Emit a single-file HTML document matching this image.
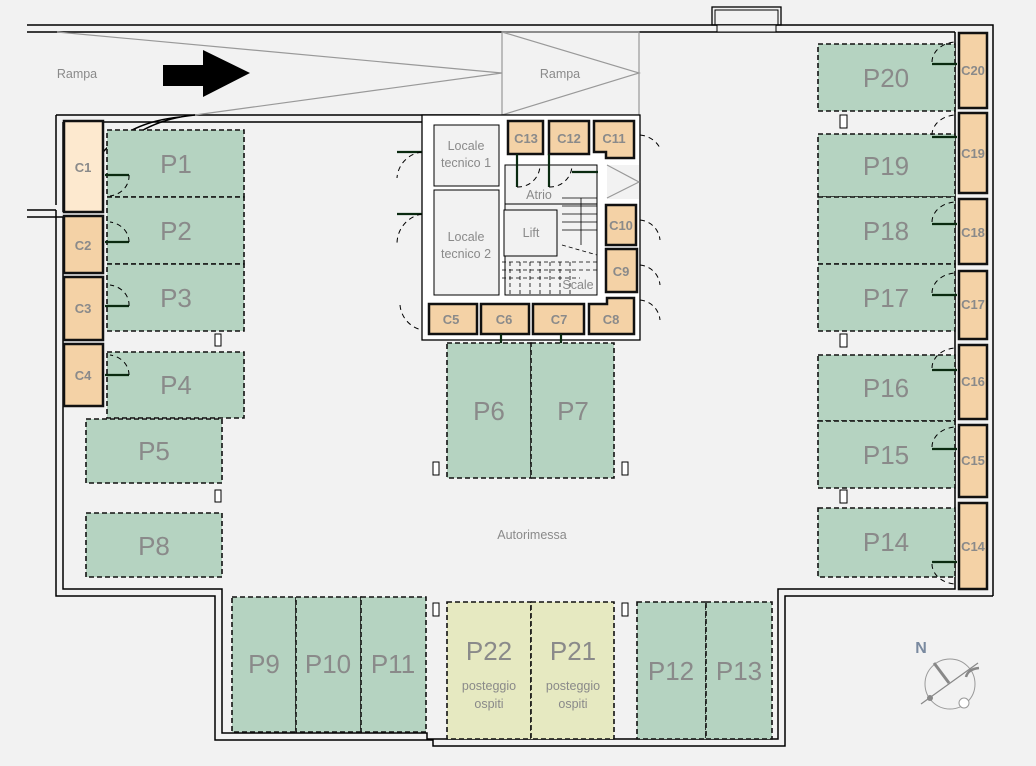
<!DOCTYPE html>
<html><head><meta charset="utf-8"><style>
html,body{margin:0;padding:0;background:#f2f2f2;}
svg{display:block;font-family:"Liberation Sans",sans-serif;}
.P{fill:#b5d3c1;stroke:#111;stroke-width:1.6;stroke-dasharray:5 3;}
.Y{fill:#e6e9c1;stroke:#111;stroke-width:1.6;stroke-dasharray:5 3;}
.C{fill:#f4d2a6;stroke:#111;stroke-width:2.5;}
.pl{font-size:26px;fill:#8a8a8a;text-anchor:middle;}
.cl{font-size:13px;fill:#8a8a8a;text-anchor:middle;font-weight:bold;}
.sl{font-size:12.5px;fill:#8a8a8a;text-anchor:middle;}
.w{fill:none;stroke:#000;stroke-width:1.5;}
.g{fill:none;stroke:#999;stroke-width:1.2;}
.pil{fill:#fff;stroke:#000;stroke-width:1;}
.d{fill:none;stroke:#000;stroke-width:1;stroke-dasharray:5 4;}
.dl{stroke:#0a2a10;stroke-width:2.2;}
</style></head><body>
<svg width="1036" height="766" viewBox="0 0 1036 766">
<rect width="1036" height="766" fill="#f2f2f2"/>
<path class="w" d="M27 25 H993 V596"/>
<path class="w" d="M27 32 H955"/>
<rect x="712" y="7" width="69" height="18" fill="none" stroke="#000" stroke-width="1.3"/>
<rect x="715" y="10" width="63" height="15" fill="none" stroke="#000" stroke-width="1"/>
<rect x="717" y="25" width="59" height="7" fill="#f2f2f2" stroke="#000" stroke-width="1"/>
<path class="w" d="M56 210 V596 H215 V740 H433 V746 H785 V596 H993"/>
<path class="w" d="M63 217 V589 H222 V733 H427 V739 H778 V589 H955 V32"/>
<path class="w" d="M56 115 H480 M56 115 V205 M63 122 H107 M63 122 V212 M107 122 H422"/>
<path class="w" d="M27 210 H56 M27 217 H63"/>
<path class="g" d="M57 32 L502 73 L195 115"/>
<path d="M107 160 Q140 120 195 115" class="w" stroke-width="1"/>
<path d="M103 152 Q130 122 180 117" class="w" stroke-width="1"/>
<rect x="502" y="32" width="137" height="83" class="g"/>
<path class="g" d="M502 32 L639 73 L502 115"/>
<text x="77" y="78" class="sl" font-size="13">Rampa</text>
<text x="560" y="78" class="sl" font-size="13">Rampa</text>
<polygon points="163,65 203,65 203,50 250,73 203,97 203,86 163,86" fill="#000"/>
<rect x="64" y="121" width="39" height="91" class="C" style="fill:#fde9cf"/>
<text x="83" y="172" class="cl">C1</text>
<rect x="64" y="216" width="39" height="57" class="C"/><text x="83" y="250" class="cl">C2</text>
<rect x="64" y="277" width="39" height="63" class="C"/><text x="83" y="313" class="cl">C3</text>
<rect x="64" y="344" width="39" height="62" class="C"/><text x="83" y="380" class="cl">C4</text>
<rect x="107" y="130" width="137" height="67" class="P"/><text x="176" y="173" class="pl">P1</text>
<rect x="107" y="197" width="137" height="67" class="P"/><text x="176" y="240" class="pl">P2</text>
<rect x="107" y="264" width="137" height="67" class="P"/><text x="176" y="307" class="pl">P3</text>
<rect x="107" y="352" width="137" height="66" class="P"/><text x="176" y="394" class="pl">P4</text>
<rect x="86" y="419" width="136" height="64" class="P"/><text x="154" y="460" class="pl">P5</text>
<rect x="86" y="513" width="136" height="64" class="P"/><text x="154" y="555" class="pl">P8</text>
<g class="dl"><line x1="105" y1="175" x2="129" y2="175"/><line x1="105" y1="242" x2="129" y2="242"/><line x1="105" y1="306" x2="129" y2="306"/><line x1="105" y1="375" x2="129" y2="375"/></g>
<g class="d"><path d="M129 175 A22 20 0 0 1 110 196"/><path d="M129 242 A22 20 0 0 0 110 222"/><path d="M129 306 A22 20 0 0 0 110 285"/><path d="M129 375 A22 20 0 0 0 110 355"/></g>
<g class="pil"><rect x="215" y="334" width="6" height="12"/><rect x="215" y="490" width="6" height="12"/><rect x="433" y="462" width="6" height="13"/><rect x="622" y="462" width="6" height="13"/><rect x="433" y="603" width="6" height="13"/><rect x="622" y="603" width="6" height="13"/><rect x="840" y="115" width="7" height="13"/><rect x="840" y="334" width="7" height="13"/><rect x="840" y="490" width="7" height="13"/></g>
<rect x="422" y="115" width="218" height="225" fill="#fff" stroke="#000" stroke-width="1.3"/>
<rect x="434" y="125" width="65" height="61" fill="#f2f2f2" stroke="#000" stroke-width="1"/>
<rect x="434" y="190" width="65" height="105" fill="#f2f2f2" stroke="#000" stroke-width="1"/>
<rect x="505" y="165" width="92" height="130" fill="#f2f2f2" stroke="#000" stroke-width="1"/>
<rect x="505" y="165" width="92" height="39" fill="#f2f2f2" stroke="#000" stroke-width="1"/>
<rect x="504" y="210" width="53" height="46" fill="#f2f2f2" stroke="#000" stroke-width="1"/>
<g stroke="#000" stroke-width="0.8" fill="none"><path d="M562 198 H597 M562 206 H597 M562 214 H597 M562 222 H597 M562 230 H597 M581 198 V245"/><path d="M562 245 L597 255" stroke-dasharray="4 3"/><path d="M502 262 H597 M502 270 H597 M502 278 H580 M510 262 V295 M520 262 V295 M530 262 V295 M540 262 V295 M550 262 V295 M560 262 V295 M570 262 V295" stroke-dasharray="4 3"/></g>
<text x="466" y="150" class="sl">Locale</text><text x="466" y="167" class="sl">tecnico 1</text>
<text x="466" y="241" class="sl">Locale</text><text x="466" y="258" class="sl">tecnico 2</text>
<text x="539" y="199" class="sl">Atrio</text>
<text x="531" y="237" class="sl">Lift</text>
<text x="578" y="289" class="sl">Scale</text>
<rect x="607" y="165" width="32" height="34" fill="#f2f2f2"/>
<path class="g" d="M607 165 L639 182 L607 198"/>
<rect x="508" y="121" width="35" height="33" class="C"/><text x="526" y="143" class="cl">C13</text>
<rect x="549" y="121" width="40" height="33" class="C"/><text x="569" y="143" class="cl">C12</text>
<path d="M594 121 H634 V158 H606 V152 H594 Z" class="C"/><text x="614" y="143" class="cl">C11</text>
<rect x="606" y="205" width="30" height="40" class="C"/><text x="621" y="230" class="cl">C10</text>
<rect x="606" y="249" width="31" height="43" class="C"/><text x="621" y="276" class="cl">C9</text>
<rect x="429" y="304" width="48" height="30" class="C"/><text x="451" y="324" class="cl">C5</text>
<rect x="481" y="304" width="48" height="30" class="C"/><text x="504" y="324" class="cl">C6</text>
<rect x="533" y="304" width="51" height="30" class="C"/><text x="559" y="324" class="cl">C7</text>
<path d="M589 304 H607 V298 H634 V334 H589 Z" class="C"/><text x="611" y="324" class="cl">C8</text>
<g class="dl"><line x1="517" y1="154" x2="517" y2="187"/><line x1="549" y1="154" x2="549" y2="187"/><line x1="572" y1="172" x2="598" y2="172"/><line x1="501" y1="334" x2="501" y2="362"/><line x1="561" y1="334" x2="561" y2="362"/><line x1="397" y1="152" x2="422" y2="152"/><line x1="397" y1="214" x2="422" y2="214"/></g>
<g class="d"><path d="M422 152 A28 28 0 0 0 397 178"/><path d="M422 214 A30 30 0 0 0 397 244"/><path d="M400 305 A28 28 0 0 0 422 330"/><path d="M640 135 A25 25 0 0 1 660 148"/><path d="M640 220 A22 22 0 0 1 660 240"/><path d="M640 265 A22 22 0 0 1 660 285"/><path d="M640 300 A22 22 0 0 1 660 320"/><path d="M517 187 A22 22 0 0 0 540 165"/><path d="M549 187 A22 22 0 0 0 572 165"/></g>
<rect x="447" y="343" width="84" height="135" class="P"/><text x="489" y="420" class="pl">P6</text>
<rect x="531" y="343" width="83" height="135" class="P"/><text x="573" y="420" class="pl">P7</text>
<text x="532" y="539" class="sl">Autorimessa</text>
<rect x="232" y="597" width="64" height="135" class="P"/><text x="264" y="673" class="pl">P9</text>
<rect x="296" y="597" width="65" height="135" class="P"/><text x="328" y="673" class="pl">P10</text>
<rect x="361" y="597" width="65" height="135" class="P"/><text x="393" y="673" class="pl">P11</text>
<rect x="447" y="602" width="84" height="137" class="Y"/><text x="489" y="660" class="pl">P22</text>
<text x="489" y="690" class="sl">posteggio</text><text x="489" y="708" class="sl">ospiti</text>
<rect x="531" y="602" width="83" height="137" class="Y"/><text x="573" y="660" class="pl">P21</text>
<text x="573" y="690" class="sl">posteggio</text><text x="573" y="708" class="sl">ospiti</text>
<rect x="637" y="602" width="69" height="137" class="P"/><text x="671" y="680" class="pl">P12</text>
<rect x="706" y="602" width="66" height="137" class="P"/><text x="739" y="680" class="pl">P13</text>
<rect x="818" y="44" width="137" height="67" class="P"/><text x="886" y="87" class="pl">P20</text>
<rect x="818" y="134" width="137" height="63" class="P"/><text x="886" y="175" class="pl">P19</text>
<rect x="818" y="197" width="137" height="67" class="P"/><text x="886" y="240" class="pl">P18</text>
<rect x="818" y="264" width="137" height="67" class="P"/><text x="886" y="307" class="pl">P17</text>
<rect x="818" y="355" width="137" height="66" class="P"/><text x="886" y="397" class="pl">P16</text>
<rect x="818" y="421" width="137" height="67" class="P"/><text x="886" y="464" class="pl">P15</text>
<rect x="818" y="508" width="137" height="69" class="P"/><text x="886" y="551" class="pl">P14</text>
<rect x="959" y="33" width="28" height="75" class="C"/><text x="973" y="75" class="cl">C20</text>
<rect x="959" y="113" width="28" height="80" class="C"/><text x="973" y="158" class="cl">C19</text>
<rect x="959" y="199" width="28" height="65" class="C"/><text x="973" y="237" class="cl">C18</text>
<rect x="959" y="271" width="28" height="68" class="C"/><text x="973" y="309" class="cl">C17</text>
<rect x="959" y="345" width="28" height="74" class="C"/><text x="973" y="386" class="cl">C16</text>
<rect x="959" y="425" width="28" height="72" class="C"/><text x="973" y="465" class="cl">C15</text>
<rect x="959" y="503" width="28" height="86" class="C"/><text x="973" y="551" class="cl">C14</text>
<g class="dl"><line x1="932" y1="64" x2="957" y2="64"/><line x1="932" y1="137" x2="957" y2="137"/><line x1="932" y1="224" x2="957" y2="224"/><line x1="932" y1="295" x2="957" y2="295"/><line x1="932" y1="370" x2="957" y2="370"/><line x1="932" y1="449" x2="957" y2="449"/><line x1="932" y1="562" x2="957" y2="562"/></g>
<g class="d"><path d="M932 62 A25 20 0 0 1 955 42"/><path d="M932 135 A25 20 0 0 1 955 115"/><path d="M932 222 A25 20 0 0 1 955 202"/><path d="M932 293 A25 20 0 0 1 955 273"/><path d="M932 368 A25 20 0 0 1 955 348"/><path d="M932 447 A25 20 0 0 1 955 427"/><path d="M932 564 A25 20 0 0 0 955 584"/></g>
<text x="921" y="653" font-size="16" fill="#7a8aa0" text-anchor="middle" font-weight="bold">N</text>
<circle cx="950" cy="684" r="25" fill="none" stroke="#999" stroke-width="1"/>
<line x1="921" y1="704" x2="978" y2="663" stroke="#888" stroke-width="1.2"/>
<line x1="934" y1="663" x2="949" y2="683" stroke="#888" stroke-width="3"/>
<path d="M966 677 Q968 669 979 668" stroke="#888" stroke-width="2.5" fill="none"/>
<circle cx="930" cy="698" r="3" fill="#888"/>
<circle cx="964" cy="703" r="5" fill="#fff" stroke="#999"/>
</svg>
</body></html>
